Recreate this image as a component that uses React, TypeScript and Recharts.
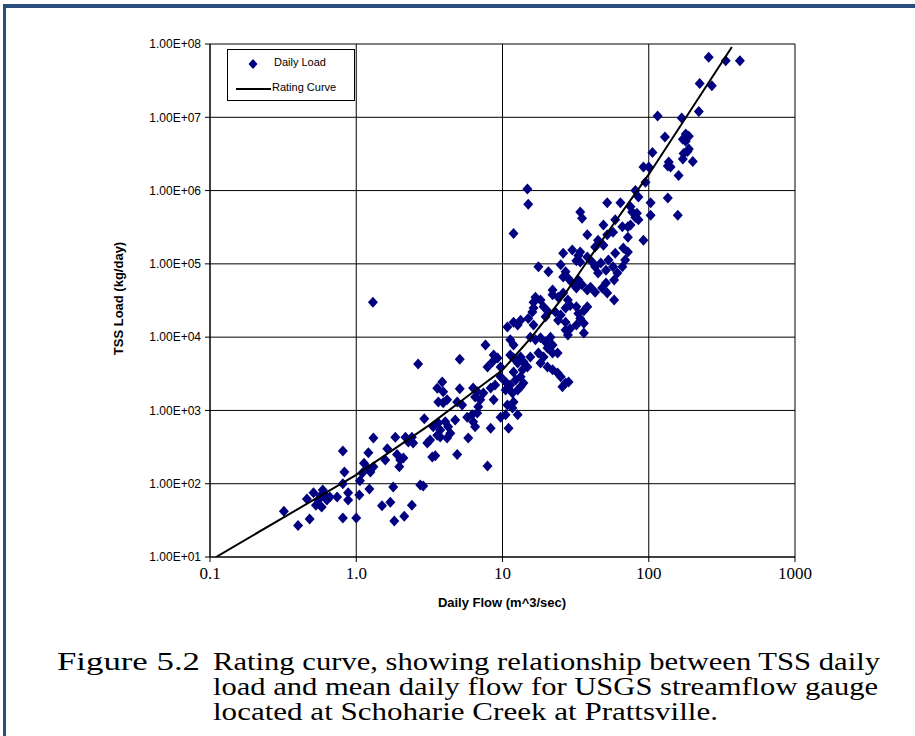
import { ScatterChart, Scatter, XAxis, YAxis, CartesianGrid, Legend } from "recharts";

const flowTicks = [0.1, 1, 10, 100, 1000];
const flowTickLabels = ["0.1", "1.0", "10", "100", "1000"];
const loadTicks = [1e1, 1e2, 1e3, 1e4, 1e5, 1e6, 1e7, 1e8];
const loadTickLabels = ["1.00E+01", "1.00E+02", "1.00E+03", "1.00E+04", "1.00E+05", "1.00E+06", "1.00E+07", "1.00E+08"];

// daily observations: [flow m^3/s, load kg/day]
const lowFlowDays: [number, number][] = [
  [0.32, 42], [0.4, 27], [0.48, 33], [0.46, 62], [0.51, 75], [0.55, 60], [0.58, 48], [0.61, 70],
  [0.63, 60], [0.66, 66], [0.59, 82], [0.74, 66], [0.81, 280], [0.83, 145], [0.81, 100], [0.88, 75],
  [0.88, 60], [0.81, 34], [1.0, 34], [1.05, 70], [1.06, 110], [1.1, 140], [1.13, 190], [1.19, 165],
  [1.25, 145], [1.31, 170], [1.21, 265], [1.23, 85], [1.31, 420], [1.5, 50], [1.58, 210], [1.63, 300],
  [1.71, 56], [1.79, 90], [1.82, 31], [1.85, 430], [1.9, 250], [2.0, 210], [2.1, 225], [1.97, 170],
  [2.17, 430], [2.27, 370], [2.4, 430], [2.45, 360], [2.13, 36], [2.4, 51], [2.74, 96], [2.87, 93],
  [2.92, 770], [3.06, 360], [0.53, 51], [0.57, 68],
];

const moderateFlowDays: [number, number][] = [
  [2.65, 4300], [5.1, 5000], [3.58, 2000], [3.87, 2450], [3.93, 1800], [3.64, 1300], [3.93, 1270],
  [4.18, 1400], [5.1, 1970], [6.3, 2030], [6.72, 1800], [6.5, 1530], [7.05, 1400], [6.83, 1120],
  [6.72, 925], [4.9, 1300], [5.3, 1190], [5.74, 810], [6.2, 870], [3.36, 600], [3.64, 675], [3.75, 540],
  [4.06, 700], [4.25, 600], [4.4, 490], [4.18, 420], [3.75, 435], [3.58, 460], [3.2, 395], [3.31, 232],
  [3.47, 240], [4.9, 250], [5.83, 420], [6.3, 700], [6.5, 600], [4.75, 740], [8.7, 1400], [11.9, 1300],
  [10.8, 1190], [11.7, 1080], [9.7, 810], [10.5, 870], [12.7, 870], [8.3, 570], [11, 570], [7.9, 175],
  [1.3, 30000],
  [11.3, 9200], [11.9, 7800], [15.5, 10000], [16.8, 9200], [18.2, 9800], [19.7, 8600], [21.3, 10000],
  [22, 7800], [7.65, 7800], [8.7, 5700], [8.55, 4600], [9.25, 5200], [9.7, 3900], [7.9, 3900],
  [11.3, 5700], [11.9, 5200], [12.7, 4450], [13.3, 5350], [13.9, 4600], [14.8, 3900], [13.7, 3600],
  [11.9, 3350], [15.5, 5350], [17.6, 6100], [19.1, 5350], [20.3, 7100], [22, 6100], [23.8, 6100],
  [18.2, 4450], [20.3, 3900], [22, 3600], [23.8, 3250], [25, 2870], [27, 2370], [25.7, 2100],
  [28.3, 2450], [9.7, 2870], [10.5, 2450], [11.3, 2230], [12.3, 2600], [13.3, 2870], [13.9, 2370],
  [11.7, 1730], [10.5, 1900], [12.7, 1900], [13.3, 2100], [8.9, 2230], [8.3, 2030], [7.4, 1730],
];

const highFlowDays: [number, number][] = [
  [11.9, 2.6e5], [38, 2.5e5], [45, 2.1e5], [43, 1.7e5], [49, 1.8e5], [52, 2.5e5], [57, 2.7e5],
  [26, 1.4e5], [30, 1.55e5], [33, 1.3e5], [34, 1.45e5], [32, 1.1e5], [34, 1.06e5], [38, 1.24e5],
  [41, 1.06e5], [43, 9.1e4], [45, 7.5e4], [47, 1.03e5], [51, 8.2e4], [53, 1.13e5], [57, 9.1e4],
  [59, 1.4e5], [61, 7.5e4], [58, 6.0e4], [17.6, 9.1e4], [20.6, 7.8e4], [25, 9.7e4], [27, 7.8e4],
  [26, 6.6e4], [28, 6.4e4], [30, 5.5e4], [32, 4.7e4], [33, 6.0e4], [35, 5.2e4], [38, 4.4e4],
  [40, 4.8e4], [43, 4.1e4], [48, 4.7e4], [51, 5.5e4], [52, 4.0e4], [58, 3.2e4], [22, 4.4e4],
  [22, 3.8e4], [24, 3.5e4], [26, 4.0e4], [28, 3.2e4], [29, 2.7e4], [27, 2.5e4], [16.8, 3.5e4],
  [16.3, 3.0e4], [18.2, 3.2e4], [19.1, 2.6e4], [20.6, 2.2e4], [19.7, 1.9e4], [16.3, 2.5e4],
  [16, 2.2e4], [23, 2.2e4], [25, 2.0e4], [24, 1.7e4], [32, 2.6e4], [33, 2.1e4], [34, 1.8e4],
  [36, 2.3e4], [38, 2.6e4], [36, 1.55e4], [27, 1.6e4], [29, 1.3e4], [32, 1.47e4], [27, 1.25e4],
  [28, 1.07e4], [36, 1.14e4], [10.8, 1.38e4], [11.9, 1.6e4], [12.7, 1.47e4], [13.3, 1.7e4],
  [15, 1.8e4], [16.3, 1.47e4],
];

const floodDays: [number, number][] = [
  [103, 6.8e5], [135, 7.9e5], [158, 4.6e5], [103, 4.6e5], [52, 6.8e5], [64, 6.8e5], [34, 5.1e5],
  [35, 4.2e5], [75, 6.0e5], [77, 5.1e5], [81, 4.3e5], [85, 4.0e5], [83, 4.9e5], [59, 4.0e5],
  [66, 3.2e5], [72, 3.2e5], [75, 3.4e5], [49, 3.4e5], [67, 1.65e5], [72, 1.45e5], [72, 2.3e5],
  [92, 2.1e5], [69, 1.13e5], [66, 9.1e4], [85, 8.2e5], [14.8, 1.05e6], [15, 6.5e5],
  [257, 6.6e7], [336, 5.9e7], [420, 5.9e7], [223, 2.9e7], [270, 2.7e7], [220, 1.2e7], [115, 1.04e7],
  [168, 9.8e6], [129, 5.4e6], [179, 5.9e6], [188, 5.5e6], [179, 4.7e6], [171, 5.0e6], [188, 3.7e6],
  [184, 3.4e6], [171, 2.7e6], [200, 2.5e6], [173, 3.2e6], [106, 3.3e6], [92, 2.1e6], [100, 2.1e6],
  [137, 2.45e6], [141, 2.1e6], [135, 2.17e6], [160, 1.6e6], [95, 1.3e6], [81, 1.0e6],
];

// rating curve
const curveFlow = [0.11, 1, 3.16, 6.3, 10, 15.8, 25, 40, 100, 370];
const curveLoad = [10, 132, 630, 1780, 3550, 10000, 32000, 126000, 1660000, 91000000];

const dailyPoints = [...lowFlowDays, ...moderateFlowDays, ...highFlowDays, ...floodDays].map(
  ([flow, load]) => ({ flow, load })
);
const curvePoints = curveFlow.map((flow, i) => ({ flow, load: curveLoad[i] }));

const NAVY = "#000080";
const SANS = "'Liberation Sans', Arial, sans-serif";
const SERIF = "'Liberation Serif', 'Times New Roman', serif";

const Diamond = (props: any) => {
  const { cx, cy } = props;
  if (cx == null || cy == null) return <g />;
  return (
    <polygon
      points={`${cx},${cy - 5.5} ${cx + 5},${cy} ${cx},${cy + 5.5} ${cx - 5},${cy}`}
      fill={NAVY}
    />
  );
};

const pickLabel = (ticks: number[], labels: string[]) => (v: number) => {
  const i = ticks.findIndex((t) => Math.abs(Math.log10(t) - Math.log10(v)) < 1e-6);
  return i >= 0 ? labels[i] : "";
};

const LegendBox = () => (
  <div
    style={{
      width: 128,
      height: 52,
      border: "1px solid #000",
      background: "#fff",
      position: "relative",
      fontFamily: SANS,
      fontSize: 11,
      color: "#000",
      boxSizing: "border-box",
    }}
  >
    <svg width={128} height={52} style={{ position: "absolute", left: 0, top: 0 }}>
      <polygon points="25,9 29.5,14 25,19 20.5,14" fill={NAVY} />
      <line x1={8} y1={39} x2={43} y2={39} stroke="#000" strokeWidth={2} />
    </svg>
    <span style={{ position: "absolute", left: 46, top: 6 }}>Daily Load</span>
    <span style={{ position: "absolute", left: 44, top: 31 }}>Rating Curve</span>
  </div>
);

export default function App() {
  return (
    <div
      style={{
        position: "absolute",
        left: 0,
        top: 0,
        width: 915,
        height: 736,
        background: "#fff",
        overflow: "hidden",
      }}
    >
      <div
        style={{
          position: "absolute",
          left: 3,
          top: 4,
          width: 930,
          height: 760,
          borderTop: "4px solid #2b4d7e",
          borderLeft: "3px solid #2b4d7e",
        }}
      />
      <ScatterChart width={915} height={620} margin={{ top: 44, right: 120, bottom: 33, left: 130 }}>
        <CartesianGrid stroke="#000" strokeWidth={1} />
        <XAxis
          type="number"
          dataKey="flow"
          scale="log"
          domain={[0.1, 1000]}
          ticks={flowTicks}
          allowDataOverflow
          height={30}
          tickFormatter={pickLabel(flowTicks, flowTickLabels)}
          tick={{ fill: "#000", fontSize: 17, fontFamily: SERIF }}
          tickSize={5}
          tickMargin={5}
          axisLine={{ stroke: "#000" }}
          tickLine={{ stroke: "#000" }}
        />
        <YAxis
          type="number"
          dataKey="load"
          scale="log"
          domain={[10, 1e8]}
          ticks={loadTicks}
          allowDataOverflow
          width={80}
          tickFormatter={pickLabel(loadTicks, loadTickLabels)}
          tick={{ fill: "#000", fontSize: 12, fontFamily: SANS }}
          tickSize={5}
          tickMargin={4}
          axisLine={{ stroke: "#000" }}
          tickLine={{ stroke: "#000" }}
        />
        <Scatter name="Daily Load" data={dailyPoints} shape={Diamond} fill={NAVY} isAnimationActive={false} />
        <Scatter
          name="Rating Curve"
          data={curvePoints}
          line={{ stroke: "#000", strokeWidth: 2 }}
          lineType="joint"
          shape={() => <g />}
          isAnimationActive={false}
        />
        <Legend
          layout="horizontal"
          verticalAlign="middle"
          align="center"
          content={() => <LegendBox />}
          wrapperStyle={{ left: 227, top: 49, width: 128, height: 52 }}
        />
      </ScatterChart>
      <div
        style={{
          position: "absolute",
          left: 402,
          top: 595,
          width: 200,
          textAlign: "center",
          fontFamily: SANS,
          fontWeight: "bold",
          fontSize: 13,
          color: "#000",
        }}
      >
        Daily Flow (m^3/sec)
      </div>
      <div
        style={{
          position: "absolute",
          left: 18,
          top: 291,
          width: 200,
          textAlign: "center",
          fontFamily: SANS,
          fontWeight: "bold",
          fontSize: 13,
          color: "#000",
          transform: "rotate(-90deg)",
        }}
      >
        TSS Load (kg/day)
      </div>
      <svg width={915} height={116} style={{ position: "absolute", left: 0, top: 620 }}>
        <g fontFamily={SERIF} fontSize={25} fill="#000">
          <text x={57} y={50} textLength={143} lengthAdjust="spacingAndGlyphs">Figure 5.2</text>
          <text x={213} y={50} textLength={667} lengthAdjust="spacingAndGlyphs">
            Rating curve, showing relationship between TSS daily
          </text>
          <text x={213} y={75} textLength={665} lengthAdjust="spacingAndGlyphs">
            load and mean daily flow for USGS streamflow gauge
          </text>
          <text x={213} y={100} textLength={505} lengthAdjust="spacingAndGlyphs">
            located at Schoharie Creek at Prattsville.
          </text>
        </g>
      </svg>
    </div>
  );
}
